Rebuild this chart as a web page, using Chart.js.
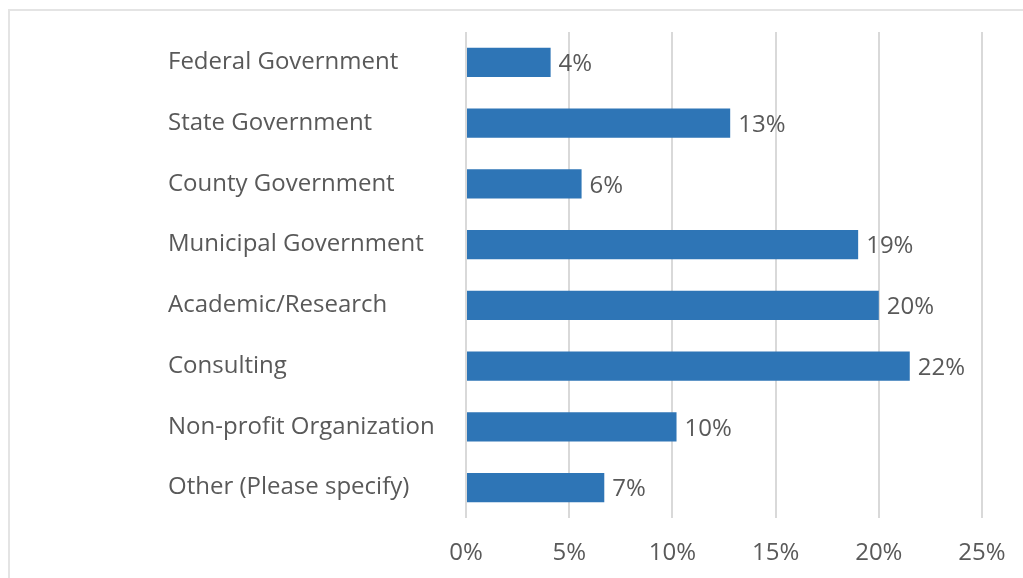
<!DOCTYPE html>
<html>
<head>
<meta charset="utf-8">
<script src="https://cdn.jsdelivr.net/npm/chart.js@4"></script>
<style>
  html, body { margin: 0; padding: 0; background: #fff; overflow: hidden; }
  #wrap { position: relative; width: 1023px; height: 578px; }
  #frame { position: absolute; left: 8px; top: 9px; width: 1030px; height: 590px; border: 2px solid #e4e4e4; box-sizing: border-box; }
  canvas { position: absolute; left: 0; top: 0; }
</style>
</head>
<body>
<div id="wrap">
  <div id="frame"></div>
  <canvas id="chart" width="1023" height="578"></canvas>
</div>
<script>
const categories = [
  'Federal Government',
  'State Government',
  'County Government',
  'Municipal Government',
  'Academic/Research',
  'Consulting',
  'Non-profit Organization',
  'Other (Please specify)'
];
const percents = [4.1, 12.8, 5.6, 19.0, 20.0, 21.5, 10.2, 6.7];
const xTicks = [0, 5, 10, 15, 20, 25];

const textColor = '#595959';
const fontFamily = '"Open Sans", sans-serif';
const fontSize = 24;

// draws the value labels at the end of each bar
const barLabels = {
  id: 'barLabels',
  afterDatasetsDraw(chart) {
    const ctx = chart.ctx;
    const meta = chart.getDatasetMeta(0);
    ctx.save();
    ctx.fillStyle = textColor;
    ctx.font = fontSize + 'px ' + fontFamily;
    ctx.textAlign = 'left';
    ctx.textBaseline = 'middle';
    meta.data.forEach((bar, i) => {
      ctx.fillText(Math.round(percents[i]) + '%', bar.x + 8, bar.y + 2);
    });
    ctx.restore();
  }
};

new Chart(document.getElementById('chart'), {
  type: 'bar',
  data: {
    labels: categories,
    datasets: [{
      data: percents,
      backgroundColor: '#2e75b6',
      borderWidth: 0,
      barPercentage: 0.8,
      categoryPercentage: 0.6
    }]
  },
  options: {
    indexAxis: 'y',
    responsive: false,
    animation: false,
    layout: { padding: { top: 32, right: 41, bottom: 0, left: 168 } },
    plugins: { legend: { display: false }, tooltip: { enabled: false } },
    scales: {
      x: {
        min: 0,
        max: 25,
        afterBuildTicks(axis) { axis.ticks = xTicks.map(v => ({ value: v })); },
        afterFit(axis) {
          axis.height = 60;
          axis.paddingLeft = 0;
          axis.paddingRight = 0;
        },
        grid: { color: '#d9d9d9', lineWidth: 2, drawTicks: false },
        border: { display: false },
        ticks: {
          padding: 21,
          color: textColor,
          font: { family: fontFamily, size: fontSize },
          callback: v => v + '%'
        }
      },
      y: {
        afterFit(axis) { axis.width = 298; },
        grid: { display: false, drawTicks: false },
        border: { display: false },
        ticks: {
          crossAlign: 'far',
          color: textColor,
          font: { family: fontFamily, size: fontSize }
        }
      }
    }
  },
  plugins: [barLabels]
});
</script>
</body>
</html>
